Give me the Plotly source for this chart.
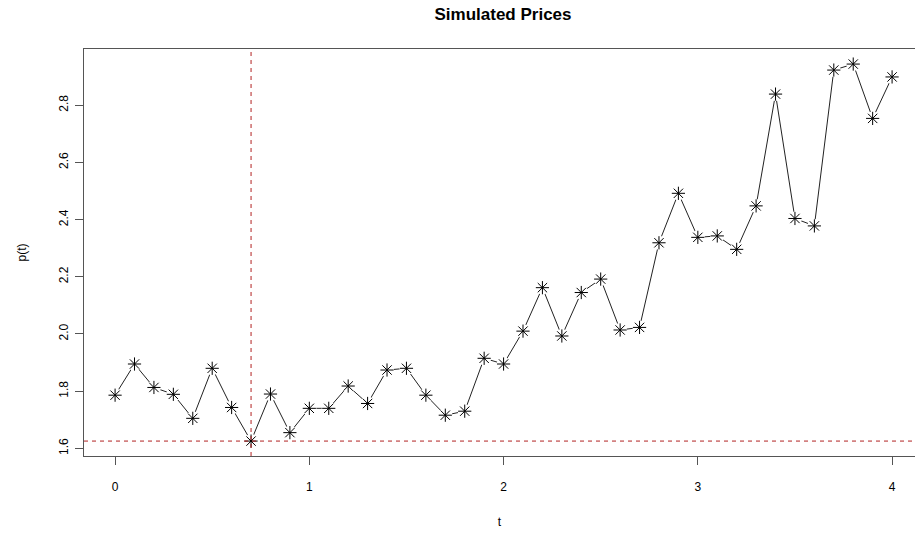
import plotly.graph_objects as go

t = [round(0.1 * i, 1) for i in range(41)]
p = [1.786, 1.895, 1.813, 1.789, 1.705, 1.880, 1.743, 1.6255, 1.790, 1.655,
     1.740, 1.740, 1.818, 1.757, 1.874, 1.880, 1.786, 1.716, 1.730, 1.915,
     1.895, 2.010, 2.162, 1.993, 2.145, 2.192, 2.014, 2.023, 2.319, 2.492,
     2.338, 2.343, 2.296, 2.448, 2.839, 2.404, 2.378, 2.923, 2.944, 2.754,
     2.899]
x_ticks = [0, 1, 2, 3, 4]
y_ticks = [1.6, 1.8, 2.0, 2.2, 2.4, 2.6, 2.8]

pmin = min(p)
tmin = t[p.index(pmin)]

FONT = "Liberation Sans, Arial, sans-serif"
RED = "#B22222"
W, H = 915, 533

fig = go.Figure()
fig.add_trace(go.Scatter(x=t, y=p, mode="lines",
                         line=dict(color="#222222", width=1), hoverinfo="skip"))
fig.add_trace(go.Scatter(x=t, y=p, mode="markers",
                         marker=dict(symbol="circle", size=14, color="white",
                                     line=dict(width=0)), hoverinfo="skip"))
fig.add_trace(go.Scatter(x=t, y=p, mode="markers",
                         marker=dict(symbol="asterisk-open", size=11, color="black",
                                     line=dict(color="black", width=1))))

fig.add_shape(type="line", x0=tmin, x1=tmin, y0=0, y1=1, xref="x", yref="paper",
              line=dict(color=RED, width=1, dash="4px,4px"))
fig.add_shape(type="line", x0=0, x1=1, y0=pmin, y1=pmin, xref="paper", yref="y",
              line=dict(color=RED, width=1, dash="4px,4px"))

fig.update_layout(
    width=W, height=H,
    margin=dict(l=84, r=0, t=49, b=77, autoexpand=False),
    paper_bgcolor="white", plot_bgcolor="white",
    showlegend=False,
    font=dict(family=FONT, size=12, color="black"),
    title=dict(text="<b>Simulated Prices</b>", x=503 / W, xanchor="center",
               xref="container", y=1 - 14 / H, yref="container", yanchor="middle",
               font=dict(family=FONT, size=17, color="black")),
    xaxis=dict(range=[-0.16, 4.118], tickvals=x_ticks, ticktext=[str(v) for v in x_ticks],
               showgrid=False, zeroline=False, showline=True, mirror=True,
               linecolor="#555555", linewidth=1, ticks="outside", ticklen=8,
               tickcolor="#555555", ticklabelstandoff=12, automargin=False,
               title=dict(text="t", standoff=24, font=dict(size=12))),
    yaxis=dict(range=[1.5733, 2.9967], tickvals=y_ticks,
               ticktext=["1.6", "1.8", "2.0", "2.2", "2.4", "2.6", "2.8"],
               tickangle=-90, showgrid=False, zeroline=False, showline=True,
               mirror=False, linecolor="#555555", linewidth=1, ticks="outside",
               ticklen=8, tickcolor="#555555", ticklabelstandoff=2, automargin=False,
               title=dict(text="p(t)", standoff=28, font=dict(size=12))),
)

fig.write_html("out.html", config={"displayModeBar": False},
               post_script="document.body.style.margin='0';document.body.style.overflow='hidden';")
